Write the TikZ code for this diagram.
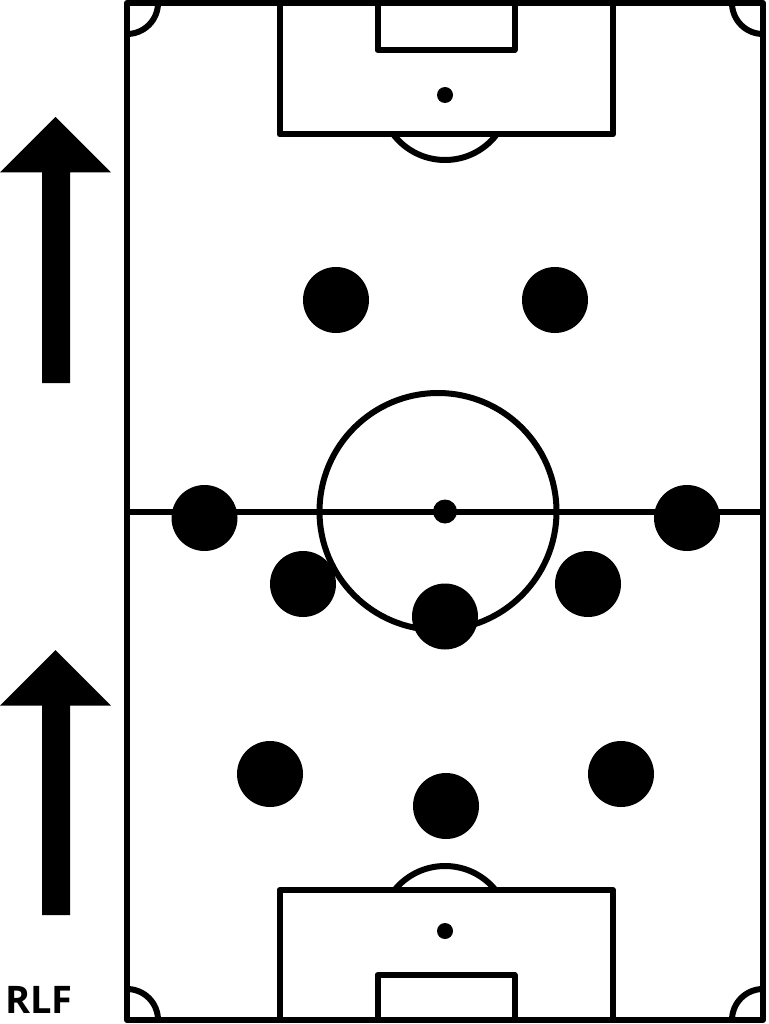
\documentclass[tikz,border=0pt]{standalone}
\usepackage{fontspec}
\newfontfamily\rlffont{Open Sans}
\begin{document}
\begin{tikzpicture}[x=1pt, y=-1pt,
                    pitchline/.style={draw=black, line width=6pt, line join=round},
                    player/.style={circle, fill=black, minimum size=66pt, inner sep=0pt, outer sep=0pt},
                    spotnode/.style={circle, fill=black, inner sep=0pt, outer sep=0pt}
                ]
                    \useasboundingbox (0,0) rectangle (768,1024);
                    % pitch
                    \draw[pitchline] (127,3) rectangle (763,1020);
                    \draw[pitchline] (127,511.5) -- (763,511.5);
                    \draw[pitchline] (279.5,3) rectangle (613,134.5);
                    \draw[pitchline] (377.5,3) rectangle (514.5,50);
                    \draw[pitchline] (279.5,890) rectangle (613,1020);
                    \draw[pitchline] (377.5,975) rectangle (514.5,1020);
                    \draw[pitchline] (438,511.5) circle (118.5);
                    \node[spotnode, minimum size=24pt] (kickoff) at (445,511.5) {};
                    \node[spotnode, minimum size=16pt] (topspot) at (445,95) {};
                    \node[spotnode, minimum size=16pt] (botspot) at (445,931) {};
                    % penalty arcs
                    \begin{scope}
                        \clip (0,134.5) rectangle (768,300);
                        \draw[pitchline] (topspot.center) circle (65);
                    \end{scope}
                    \begin{scope}
                        \clip (0,700) rectangle (768,890);
                        \draw[pitchline] (botspot.center) circle (65);
                    \end{scope}
                    % corner arcs
                    \begin{scope}
                        \clip (127,3) rectangle (763,1020);
                        \draw[pitchline] (127,3) circle (31);
                        \draw[pitchline] (763,3) circle (31);
                        \draw[pitchline] (127,1020) circle (31);
                        \draw[pitchline] (763,1020) circle (31);
                    \end{scope}
                    % players
                    \node[player] (ls) at (336,300) {};
                    \node[player] (rs) at (555,300) {};
                    \node[player] (lw) at (204.5,518) {};
                    \node[player] (rw) at (687,518) {};
                    \node[player] (lm) at (303,584) {};
                    \node[player] (rm) at (588,584) {};
                    \node[player] (cm) at (445,616.5) {};
                    \node[player] (lb) at (270,774) {};
                    \node[player] (rb) at (621,774) {};
                    \node[player] (cb) at (446,806) {};
                    % direction arrows
                    \fill[black] (55.5,117) -- (111,172.5) -- (70,172.5) -- (70,383) -- (42,383) -- (42,172.5) -- (0,172.5) -- cycle;
                    \fill[black] (55.5,650) -- (111,705.5) -- (70,705.5) -- (70,915) -- (42,915) -- (42,705.5) -- (0,705.5) -- cycle;
                    \node[anchor=base west, inner sep=0pt] (rlf) at (5,1013) {\rlffont\bfseries\fontsize{38}{42}\selectfont RLF};
                \end{tikzpicture}
\end{document}
